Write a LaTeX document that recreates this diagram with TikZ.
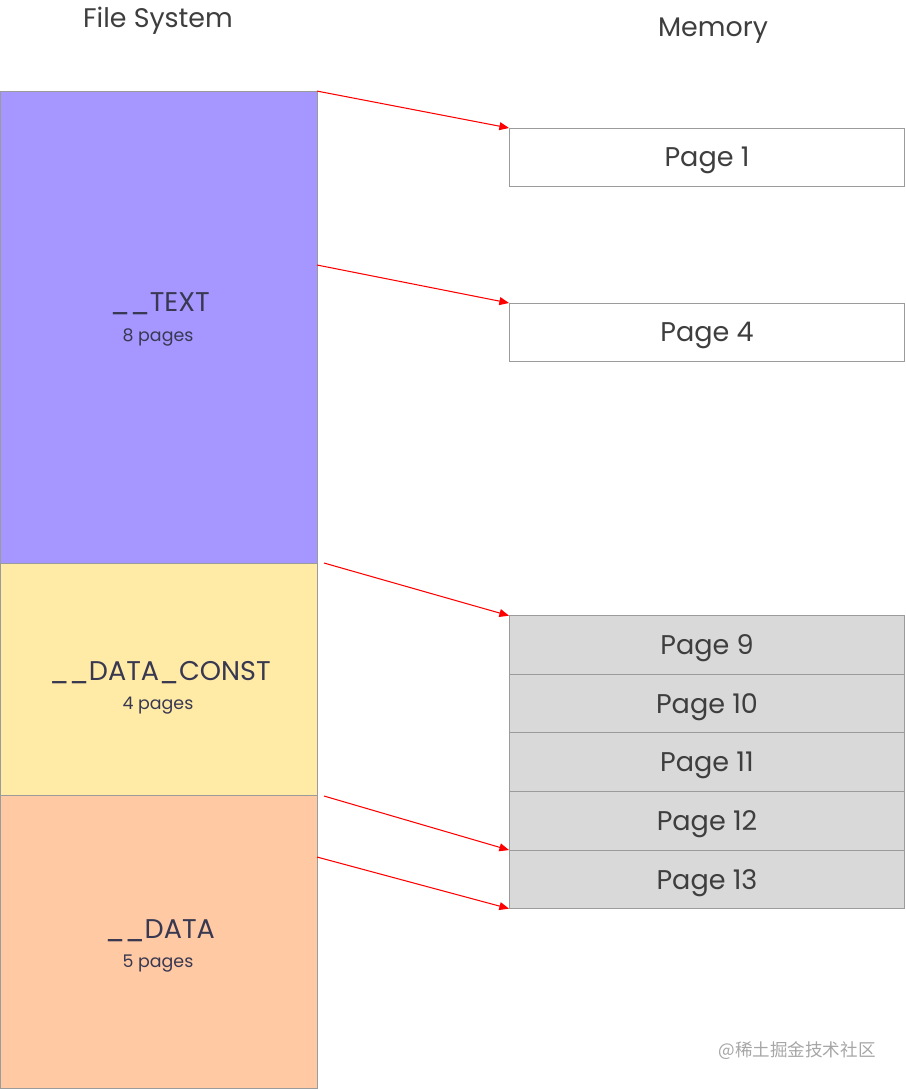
\documentclass[tikz,border=0pt]{standalone}
\usepackage{fontspec}
\setmainfont{Poppins}
\newfontfamily\cjk{Noto Sans CJK SC}
\usetikzlibrary{positioning,arrows.meta}

\definecolor{textseg}{RGB}{165,151,255}
\definecolor{constseg}{RGB}{255,234,166}
\definecolor{dataseg}{RGB}{255,201,163}
\definecolor{edgegray}{RGB}{155,155,155}
\definecolor{pagegray}{RGB}{217,217,217}
\definecolor{ink}{RGB}{62,62,62}

\tikzset{
  segbox/.style={draw=edgegray, line width=0.5pt, minimum width=6.34cm, outer sep=0pt, inner sep=0pt},
  pagebox/.style={draw=edgegray, line width=0.55pt, fill=white, minimum width=7.92cm, minimum height=1.16cm,
    outer sep=0pt, inner sep=0pt, text depth=0pt, text=ink, font=\fontsize{15.4}{17}\selectfont},
  mapped/.style={pagebox, fill=pagegray, minimum height=1.172cm},
  seglabel/.style={text=ink!90!blue, font=\fontsize{15.4}{17}\selectfont},
  segcount/.style={text=ink!90!blue, font=\fontsize{9.9}{11}\selectfont},
  title/.style={text=ink, font=\fontsize{15.3}{17}\selectfont},
  maparrow/.style={red, line width=0.6pt, -{Triangle[length=5.5pt,width=4.5pt]}}
}

\begin{document}
\begin{tikzpicture}[x=0.02cm,y=-0.02cm]
			\useasboundingbox (0,0) rectangle (906,1090);
			% column titles
			\node[title] (fs) at (158,21) {File System};
			\node[title] (mem) at (713,31) {Memory};
			% segments in the file
			\node[segbox, fill=textseg, minimum height=9.44cm] (text) at (158.5,327) {};
			\node[segbox, fill=constseg, minimum height=4.64cm] (const) at (158.5,679) {};
			\node[segbox, fill=dataseg, minimum height=5.86cm] (data) at (158.5,941.5) {};
			\node[seglabel] (textname) at (160,304) {\_\_TEXT};
			\node[segcount] (textsize) at (158,337) {8 pages};
			\node[seglabel] (constname) at (160,673) {\_\_DATA\_CONST};
			\node[segcount] (constsize) at (158,706) {4 pages};
			\node[seglabel] (dataname) at (160,931) {\_\_DATA};
			\node[segcount] (datasize) at (158,964) {5 pages};
			% pages in memory
			\node[pagebox] (p1) at (707,157) {Page 1};
			\node[pagebox] (p4) at (707,332) {Page 4};
			\node[mapped] (p9) at (707,645) {Page 9};
			\node[mapped, below=0pt of p9] (p10) {Page 10};
			\node[mapped, below=0pt of p10] (p11) {Page 11};
			\node[mapped, below=0pt of p11] (p12) {Page 12};
			\node[mapped, below=0pt of p12] (p13) {Page 13};
			% where the arrows leave the file
			\coordinate (from4) at (317,265);
			\coordinate (from9) at (324,563);
			\coordinate (from12) at (324,796);
			\coordinate (from13) at (317,857);
			\draw[maparrow] (text.north east) -- (p1.north west);
			\draw[maparrow] (from4) -- (p4.north west);
			\draw[maparrow] (from9) -- (p9.north west);
			\draw[maparrow] (from12) -- (p13.north west);
			\draw[maparrow] (from13) -- (p13.south west);
			% watermark
			\node[text=black!35, font=\cjk\fontsize{10}{12}\selectfont] (mark) at (797,1051) {@稀土掘金技术社区};
		\end{tikzpicture}
\end{document}
